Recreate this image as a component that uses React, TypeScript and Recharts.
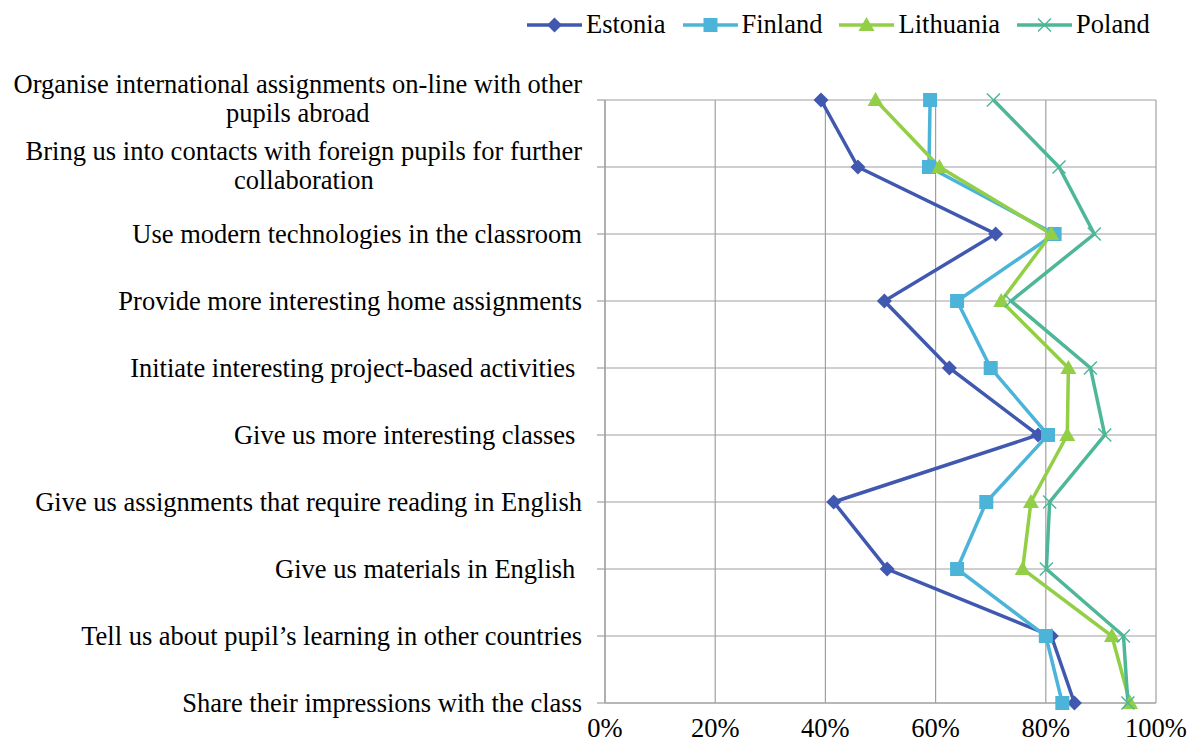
import React from 'react';
import { LineChart, Line, XAxis, YAxis, CartesianGrid, Legend } from 'recharts';

const categories = [
  'Organise international assignments on-line with other\npupils abroad',
  'Bring us into contacts with foreign pupils for further\ncollaboration',
  'Use modern technologies in the classroom',
  'Provide more interesting home assignments',
  'Initiate interesting project-based activities ',
  'Give us more interesting classes ',
  'Give us assignments that require reading in English',
  'Give us materials in English ',
  'Tell us about pupil\u2019s learning in other countries',
  'Share their impressions with the class',
];

const estonia = [39.2, 45.9, 70.9, 50.7, 62.5, 78.6, 41.5, 51.2, 81.0, 85.2];
const finland = [59.0, 58.8, 81.6, 63.9, 70.0, 80.4, 69.2, 63.9, 80.0, 83.0];
const lithuania = [49.1, 60.7, 81.0, 71.9, 84.1, 83.9, 77.3, 75.8, 92.0, 95.3];
const poland = [70.5, 82.4, 88.8, 73.7, 88.1, 90.7, 80.7, 80.1, 94.1, 94.9];

const xTicks = [0, 20, 40, 60, 80, 100];

const seriesNames = ['Estonia', 'Finland', 'Lithuania', 'Poland'];

const data = categories.map((c, i) => ({
  category: c,
  Estonia: estonia[i],
  Finland: finland[i],
  Lithuania: lithuania[i],
  Poland: poland[i],
}));

const FONT = '"Liberation Serif", "Times New Roman", serif';
const FS = 26.5;
const GRID = '#a0a0a0';

const styles: Record<string, { color: string; shape: string }> = {
  Estonia: { color: '#4058b0', shape: 'diamond' },
  Finland: { color: '#4cb4d9', shape: 'square' },
  Lithuania: { color: '#92cf46', shape: 'triangle' },
  Poland: { color: '#4db798', shape: 'x' },
};

function Marker({ cx, cy, shape, color }: { cx: number; cy: number; shape: string; color: string }) {
  if (shape === 'diamond') {
    const r = 7.5;
    return <polygon points={`${cx},${cy - r} ${cx + r},${cy} ${cx},${cy + r} ${cx - r},${cy}`} fill={color} />;
  }
  if (shape === 'square') {
    const r = 7;
    return <rect x={cx - r} y={cy - r} width={2 * r} height={2 * r} fill={color} />;
  }
  if (shape === 'triangle') {
    const r = 8;
    return <polygon points={`${cx},${cy - r} ${cx + r},${cy + r * 0.75} ${cx - r},${cy + r * 0.75}`} fill={color} />;
  }
  const r = 6.5;
  return (
    <g stroke={color} strokeWidth={1.5}>
      <line x1={cx - r} y1={cy - r} x2={cx + r} y2={cy + r} />
      <line x1={cx - r} y1={cy + r} x2={cx + r} y2={cy - r} />
    </g>
  );
}

let ctx: CanvasRenderingContext2D | null = null;
function measure(t: string) {
  if (!ctx) {
    ctx = document.createElement('canvas').getContext('2d');
  }
  if (!ctx) return t.length * 11;
  ctx.font = `${FS}px ${FONT}`;
  return ctx.measureText(t).width;
}

function YTick(props: any) {
  const { x, y, payload } = props;
  const lines = String(payload.value).split('\n');
  if (lines.length === 1) {
    return (
      <text x={x} y={y} dy="0.33em" textAnchor="end" fontFamily={FONT} fontSize={FS} fill="#000" style={{ whiteSpace: 'pre' }}>
        {lines[0]}
      </text>
    );
  }
  const w = Math.max(...lines.map(measure));
  const cx = x - w / 2;
  const lh = 29;
  return (
    <text fontFamily={FONT} fontSize={FS} fill="#000" textAnchor="middle">
      {lines.map((l, i) => (
        <tspan key={i} x={cx} y={y - 1.5 + (i - (lines.length - 1) / 2) * lh} dy="0.33em">
          {l}
        </tspan>
      ))}
    </text>
  );
}

function LegendContent() {
  return (
    <div style={{ display: 'flex', alignItems: 'center', fontFamily: FONT, fontSize: FS, color: '#000', whiteSpace: 'nowrap' }}>
      {seriesNames.map((n) => {
        const s = styles[n];
        return (
          <div key={n} style={{ display: 'flex', alignItems: 'center', marginRight: 17 }}>
            <svg width={55} height={20} style={{ marginRight: 4 }}>
              <line x1={0} y1={10} x2={55} y2={10} stroke={s.color} strokeWidth={3.5} />
              <Marker cx={27.5} cy={10} shape={s.shape} color={s.color} />
            </svg>
            <span>{n}</span>
          </div>
        );
      })}
    </div>
  );
}

export default function App() {
  return (
    <div style={{ position: 'absolute', left: 0, top: 0, background: '#fff' }}>
      <LineChart
        width={1187}
        height={744}
        data={data}
        layout="vertical"
        margin={{ top: 100, right: 31, bottom: 0, left: 0 }}
      >
        <CartesianGrid stroke={GRID} strokeWidth={1.2} />
        <XAxis
          type="number"
          domain={[0, 100]}
          ticks={xTicks}
          tickFormatter={(v: number) => `${v}%`}
          height={41}
          tickLine={false}
          tickSize={0}
          tickMargin={15}
          axisLine={{ stroke: GRID, strokeWidth: 1.2 }}
          tick={{ fontFamily: FONT, fontSize: FS, fill: '#000' }}
          interval={0}
        />
        <YAxis
          type="category"
          dataKey="category"
          scale="point"
          padding={{ top: 0, bottom: 0 }}
          width={605}
          tickSize={8}
          tickMargin={15}
          tickLine={{ stroke: GRID, strokeWidth: 1.2 }}
          axisLine={{ stroke: GRID, strokeWidth: 1.2 }}
          tick={<YTick />}
          interval={0}
        />
        <Legend
          layout="horizontal"
          verticalAlign="middle"
          align="center"
          content={<LegendContent />}
          wrapperStyle={{ top: 9, left: 527, width: 660, height: 30 }}
        />
        {seriesNames.map((n) => {
          const s = styles[n];
          return (
            <Line
              key={n}
              dataKey={n}
              name={n}
              stroke={s.color}
              strokeWidth={3.5}
              isAnimationActive={false}
              dot={(p: any) => <Marker key={`${n}-${p.index}`} cx={p.cx} cy={p.cy} shape={s.shape} color={s.color} />}
              activeDot={false}
            />
          );
        })}
      </LineChart>
    </div>
  );
}
